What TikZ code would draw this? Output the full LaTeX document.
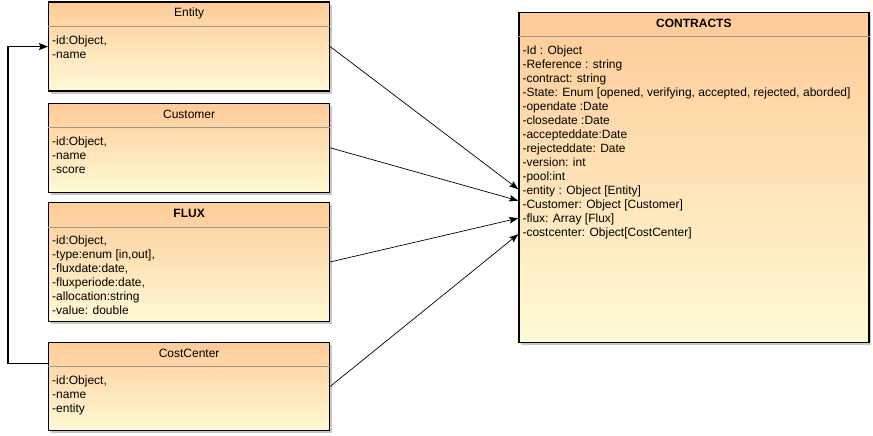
\documentclass[tikz,border=0pt]{standalone}
\usepackage{fontspec}
\setmainfont{Liberation Sans}
\usetikzlibrary{
   arrows.meta,
   calc,
   positioning,
   shadows
}
\definecolor{classtop}{HTML}{FFCB97}
\definecolor{classbottom}{HTML}{FFFAD6}

\begin{document}
\begin{tikzpicture}[
  x=1pt, y=1pt,
  every node/.style={font=\fontsize{12}{14}\selectfont},
  classbox/.style={draw=black, line width=1.2pt, top color=classtop, bottom color=classbottom,
    drop shadow={shadow xshift=2.5pt, shadow yshift=-2.5pt, fill=black!22, opacity=1},
    anchor=north west, inner sep=0pt, minimum width=281pt},
  headline/.style={draw=black!40, line width=0.9pt},
  classtitle/.style={anchor=base, inner sep=0pt},
  attrs/.style={anchor=north west, align=left, inner sep=0pt},
  link/.style={-{Stealth[length=9pt, width=6.5pt, inset=1.5pt]}, line width=0.7pt},
  backlink/.style={-{Stealth[length=9pt, width=7pt, inset=1.5pt]}, line width=1.1pt},
]
\useasboundingbox (0,0) rectangle (873,-436);

% entity
\node[classbox, minimum height=89pt] (entity) at (48,-1.5) {};
\draw[headline] ([yshift=-25pt]entity.north west) -- ([yshift=-25pt]entity.north east);
\node[classtitle] (entity-title) at ([yshift=-15.5pt]entity.north) {Entity};
\node[attrs] (entity-attrs) at ([xshift=4pt, yshift=-34pt]entity.north west) {-id:Object,\\-name};

% customer
\node[classbox, minimum height=89pt] (customer) at (48,-102.7) {};
\draw[headline] ([yshift=-25pt]customer.north west) -- ([yshift=-25pt]customer.north east);
\node[classtitle] (customer-title) at ([yshift=-15.5pt]customer.north) {Customer};
\node[attrs] (customer-attrs) at ([xshift=4pt, yshift=-34pt]customer.north west) {-id:Object,\\-name\\-score};

% flux
\node[classbox, minimum height=119.3pt] (flux) at (48,-201.7) {};
\draw[headline] ([yshift=-25.5pt]flux.north west) -- ([yshift=-25.5pt]flux.north east);
\node[classtitle] (flux-title) at ([yshift=-15.5pt]flux.north) {\bfseries FLUX};
\node[attrs] (flux-attrs) at ([xshift=4pt, yshift=-33.5pt]flux.north west)
  {-id:Object,\\-type:enum [in,out],\\-fluxdate:date,\\-fluxperiode:date,\\-allocation:string\\-value: double};

% cost center
\node[classbox, minimum height=88.3pt] (costcenter) at (48,-341.7) {};
\draw[headline] ([yshift=-25pt]costcenter.north west) -- ([yshift=-25pt]costcenter.north east);
\node[classtitle] (costcenter-title) at ([yshift=-15.5pt]costcenter.north) {CostCenter};
\node[attrs] (costcenter-attrs) at ([xshift=4pt, yshift=-33.5pt]costcenter.north west) {-id:Object,\\-name\\-entity};

% contracts
\node[classbox, minimum width=350pt, minimum height=330pt] (contracts) at (518.3,-11.7) {};
\draw[headline] ([yshift=-24.5pt]contracts.north west) -- ([yshift=-24.5pt]contracts.north east);
\node[classtitle] (contracts-title) at ([yshift=-15.5pt]contracts.north) {\bfseries CONTRACTS};
\node[attrs] (contracts-attrs) at ([xshift=4pt, yshift=-33.5pt]contracts.north west)
  {-Id : Object\\-Reference : string\\-contract: string\\-State: Enum [opened, verifying, accepted, rejected, aborded]\\-opendate :Date\\-closedate :Date\\-accepteddate:Date\\-rejecteddate: Date\\-version: int\\-pool:int\\-entity : Object [Entity]\\-Customer: Object [Customer]\\-flux: Array [Flux]\\-costcenter: Object[CostCenter]};

% links to contracts
\draw[link] (entity.east) -- ([yshift=-177.5pt]contracts.north west);
\draw[link] (customer.east) -- ([yshift=-189pt]contracts.north west);
\draw[link] (flux.east) -- ([yshift=-206.5pt]contracts.north west);
\draw[link] (costcenter.east) -- ([yshift=-222.5pt]contracts.north west);

% cost center back to entity
\draw[backlink] ([yshift=-21.5pt]costcenter.north west) -- ++(-40,0) |- (entity.west);

\end{tikzpicture}
\end{document}
